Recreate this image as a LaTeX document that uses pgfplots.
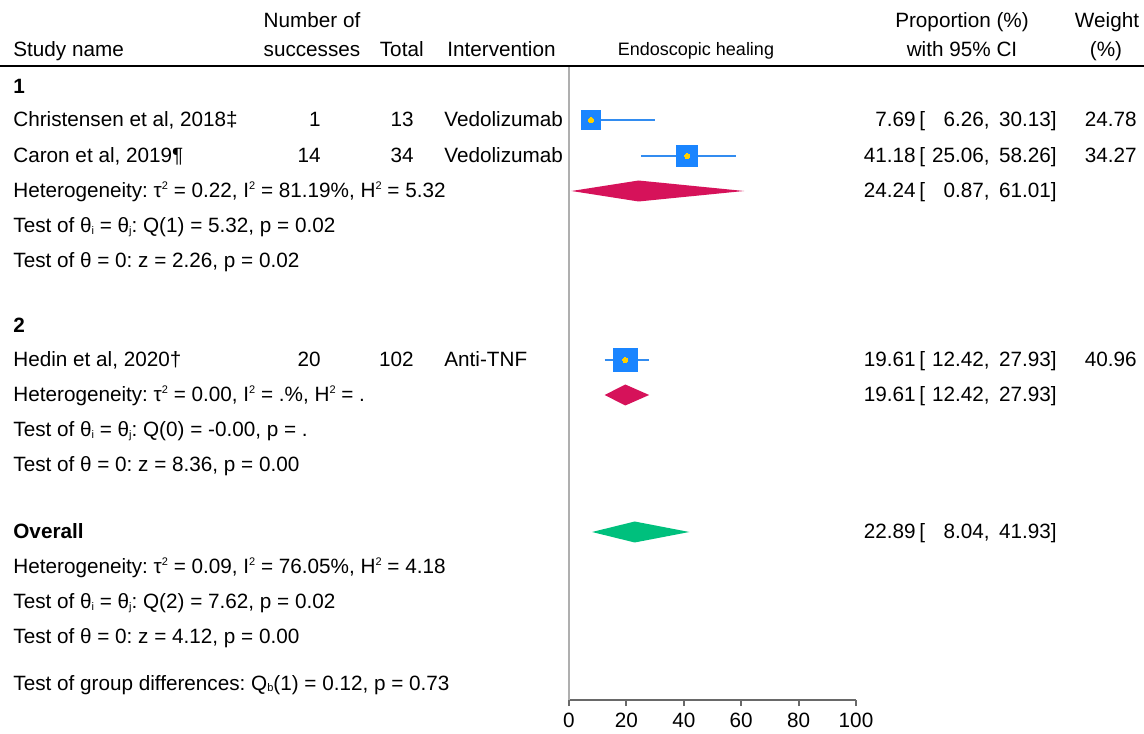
\documentclass[border=0pt]{standalone}
\usepackage{pgfplots}
\pgfplotsset{compat=1.18}
\usepackage{fontspec}
\setmainfont{Liberation Sans}
\frenchspacing
\definecolor{sqblue}{RGB}{26,133,255}
\definecolor{ciblue}{RGB}{50,140,240}
\definecolor{dotgold}{RGB}{255,208,0}
\definecolor{crim}{RGB}{214,18,90}
\definecolor{grn}{RGB}{0,192,125}
\definecolor{ygray}{RGB}{175,175,175}
\definecolor{xgray}{RGB}{105,105,105}
\newcommand{\fs}{\fontsize{10.35}{12}\selectfont}
\newcommand{\spr}[1]{\raisebox{4pt}{\fontsize{5.5}{5.5}\selectfont #1}}
\newcommand{\sbs}[1]{\raisebox{-0.6pt}{\fontsize{5.5}{5.5}\selectfont #1}}
\begin{document}
\begin{tikzpicture}[font=\fs]
\begin{axis}[
  scale only axis, width=143.5pt, height=317pt,
  xmin=0, xmax=100, ymin=-700, ymax=-66,
  axis lines=left,
  x axis line style={-, draw=xgray, line width=1pt},
  y axis line style={-, draw=ygray, line width=1pt},
  xtick={0,20,40,60,80,100}, ytick=\empty,
  tick align=outside, major tick length=3pt,
  every tick/.style={draw=xgray, line width=1pt},
  tick label style={font=\fs},
  /pgf/number format/assume math mode=true,
  xticklabel style={anchor=base, yshift=-10.5pt, inner sep=0pt},
  clip=false,
]
% confidence intervals
\addplot[ciblue, line width=1pt] coordinates {(6.26,-120) (30.13,-120)};
\addplot[ciblue, line width=1pt] coordinates {(25.06,-156) (58.26,-156)};
\addplot[ciblue, line width=1pt] coordinates {(12.42,-360) (27.93,-360)};
% study squares (size ~ weight)
\addplot[sqblue, only marks, mark=square*, mark size=4.6pt, mark options={fill=sqblue, draw=sqblue, line width=0pt}] coordinates {(7.69,-120)};
\addplot[sqblue, only marks, mark=square*, mark size=5.4pt, mark options={fill=sqblue, draw=sqblue, line width=0pt}] coordinates {(41.18,-156)};
\addplot[sqblue, only marks, mark=square*, mark size=5.9pt, mark options={fill=sqblue, draw=sqblue, line width=0pt}] coordinates {(19.61,-360)};
\addplot[dotgold, only marks, mark=*, mark size=1.3pt, mark options={fill=dotgold, draw=dotgold, line width=0pt}] coordinates {(7.69,-120) (41.18,-156) (19.61,-360)};
% subgroup diamonds
\addplot[fill=crim, draw=none] coordinates {(0.87,-191) (24.24,-180.5) (61.01,-191) (24.24,-201.5)} -- cycle;
\addplot[fill=crim, draw=none] coordinates {(12.42,-395) (19.61,-384.5) (27.93,-395) (19.61,-405.5)} -- cycle;
% overall diamond
\addplot[fill=grn, draw=none] coordinates {(8.04,-532) (22.89,-521.5) (41.93,-532) (22.89,-542.5)} -- cycle;
\coordinate (O) at (axis cs:0,-700);
\end{axis}
\begin{scope}[shift={(O)}, x=0.5pt, y=-0.5pt, shift={(-569,-700)}, every node/.style={inner sep=0pt, font=\fs}]
% header
\node[anchor=base west] at (13,57) {Study name};
\node[anchor=base] at (312,28) {Number of};
\node[anchor=base] at (312,57) {successes};
\node[anchor=base east] at (424,57) {Total};
\node[anchor=base west] at (447,57) {Intervention};
\node[anchor=base, font=\fontsize{9}{11}\selectfont] at (696,56) {Endoscopic healing};
\node[anchor=base] at (962,28) {Proportion (\%)};
\node[anchor=base] at (962,57) {with 95\% CI};
\node[anchor=base] at (1107,28) {Weight};
\node[anchor=base] at (1106,57) {(\%)};
\draw[line width=1pt, black] (0,66) -- (1144,66);
% group 1
\node[anchor=base west] at (13,94) {\bfseries 1};
\node[anchor=base west] at (13,127) {Christensen et al, 2018‡};
\node[anchor=base east] at (321,127) {1};
\node[anchor=base east] at (414,127) {13};
\node[anchor=base west] at (444,127) {Vedolizumab};
\node[anchor=base east] at (916,127) {7.69};
\node[anchor=base west] at (919,127) {[};
\node[anchor=base east] at (990,127) {6.26,};
\node[anchor=base east] at (1057,127) {30.13]};
\node[anchor=base east] at (1137,127) {24.78};
\node[anchor=base west] at (13,163) {Caron et al, 2019¶};
\node[anchor=base east] at (321,163) {14};
\node[anchor=base east] at (414,163) {34};
\node[anchor=base west] at (444,163) {Vedolizumab};
\node[anchor=base east] at (916,163) {41.18};
\node[anchor=base west] at (919,163) {[};
\node[anchor=base east] at (990,163) {25.06,};
\node[anchor=base east] at (1057,163) {58.26]};
\node[anchor=base east] at (1137,163) {34.27};
\node[anchor=base west] at (13,198) {Heterogeneity: τ\spr{2} = 0.22, I\spr{2} = 81.19\%, H\spr{2} = 5.32};
\node[anchor=base east] at (916,198) {24.24};
\node[anchor=base west] at (919,198) {[};
\node[anchor=base east] at (990,198) {0.87,};
\node[anchor=base east] at (1057,198) {61.01]};
\node[anchor=base west] at (13,233) {Test of θ\sbs{i} = θ\sbs{j}: Q(1) = 5.32, p = 0.02};
\node[anchor=base west] at (13,268) {Test of θ = 0: z = 2.26, p = 0.02};
% group 2
\node[anchor=base west] at (13,333) {\bfseries 2};
\node[anchor=base west] at (13,367) {Hedin et al, 2020†};
\node[anchor=base east] at (321,367) {20};
\node[anchor=base east] at (414,367) {102};
\node[anchor=base west] at (444,367) {Anti-TNF};
\node[anchor=base east] at (916,367) {19.61};
\node[anchor=base west] at (919,367) {[};
\node[anchor=base east] at (990,367) {12.42,};
\node[anchor=base east] at (1057,367) {27.93]};
\node[anchor=base east] at (1137,367) {40.96};
\node[anchor=base west] at (13,402) {Heterogeneity: τ\spr{2} = 0.00, I\spr{2} = .\%, H\spr{2} = .};
\node[anchor=base east] at (916,402) {19.61};
\node[anchor=base west] at (919,402) {[};
\node[anchor=base east] at (990,402) {12.42,};
\node[anchor=base east] at (1057,402) {27.93]};
\node[anchor=base west] at (13,437) {Test of θ\sbs{i} = θ\sbs{j}: Q(0) = -0.00, p = .};
\node[anchor=base west] at (13,472) {Test of θ = 0: z = 8.36, p = 0.00};
% overall
\node[anchor=base west] at (13,539) {\bfseries Overall};
\node[anchor=base east] at (916,539) {22.89};
\node[anchor=base west] at (919,539) {[};
\node[anchor=base east] at (990,539) {8.04,};
\node[anchor=base east] at (1057,539) {41.93]};
\node[anchor=base west] at (13,574) {Heterogeneity: τ\spr{2} = 0.09, I\spr{2} = 76.05\%, H\spr{2} = 4.18};
\node[anchor=base west] at (13,609) {Test of θ\sbs{i} = θ\sbs{j}: Q(2) = 7.62, p = 0.02};
\node[anchor=base west] at (13,644) {Test of θ = 0: z = 4.12, p = 0.00};
\node[anchor=base west] at (13,690) {Test of group differences: Q\sbs{b}(1) = 0.12, p = 0.73};
\pgfresetboundingbox
\path[use as bounding box] (0,0) rectangle (1144,733);
\end{scope}
\end{tikzpicture}
\end{document}
